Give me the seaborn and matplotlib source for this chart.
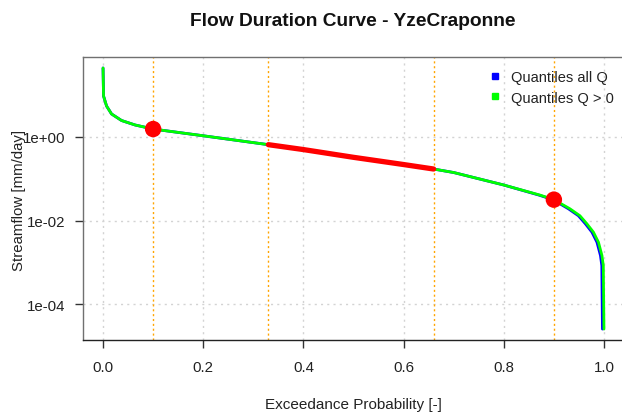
import matplotlib
matplotlib.use("Agg")
import matplotlib.pyplot as plt
from matplotlib.lines import Line2D
from matplotlib.ticker import FixedLocator, FixedFormatter, NullLocator
import seaborn as sns
import pandas as pd

# exceedance probabilities and flows (Q > 0)
prob_pos = [0.000, 0.001, 0.007, 0.017, 0.037, 0.064, 0.10, 0.20, 0.33, 0.40,
            0.50, 0.60, 0.66, 0.70, 0.80, 0.872, 0.90, 0.932, 0.952, 0.966,
            0.979, 0.989, 0.996, 0.9987, 1.000]
flow_pos = [45.0, 9.6, 5.53, 3.56, 2.48, 1.94, 1.55, 1.07, 0.655, 0.50,
            0.326, 0.219, 0.171, 0.141, 0.0708, 0.0407, 0.0316, 0.0191, 0.0130, 0.00832,
            0.00525, 0.00302, 0.00145, 0.00083, 0.0000251]

# all Q (only visible in the tail)
prob_all = [0.000, 0.001, 0.007, 0.017, 0.037, 0.064, 0.10, 0.20, 0.33, 0.40,
            0.50, 0.60, 0.66, 0.70, 0.80, 0.870, 0.898, 0.929, 0.949, 0.963,
            0.976, 0.986, 0.993, 0.9957, 0.997]
flow_all = flow_pos

# mid segment (0.33 - 0.66)
prob_mid = [0.33, 0.40, 0.50, 0.60, 0.66]
flow_mid = [0.655, 0.50, 0.326, 0.219, 0.171]

# Q10 / Q90 points
prob_pts = [0.10, 0.90]
flow_pts = [1.55, 0.0316]

vlines = [0.1, 0.33, 0.66, 0.9]
x_ticks = [0.0, 0.2, 0.4, 0.6, 0.8, 1.0]
y_ticks = [1e0, 1e-2, 1e-4]
y_tick_labels = ["1e+00", "1e-02", "1e-04"]

sns.set_style("white")
plt.rcParams["font.family"] = ["Liberation Sans", "DejaVu Sans"]

df_all = pd.DataFrame({"p": prob_all, "q": flow_all})
df_pos = pd.DataFrame({"p": prob_pos, "q": flow_pos})
df_mid = pd.DataFrame({"p": prob_mid, "q": flow_mid})
df_pts = pd.DataFrame({"p": prob_pts, "q": flow_pts})

fig = plt.figure(figsize=(6.22, 4.14), dpi=100)
ax = fig.add_axes([83 / 622, 73 / 414, 541 / 622, 283 / 414])

ax.set_yscale("log")
ax.set_xlim(-0.04, 1.04)
ax.set_ylim(10 ** -4.862, 10 ** 1.916)

# grid
for xv in x_ticks:
    ax.axvline(xv, color="#d3d3d3", ls=(0, (1.5, 3)), lw=1, zorder=0)
for yv in y_ticks:
    ax.axhline(yv, color="#d3d3d3", ls=(0, (1.5, 3)), lw=1, zorder=0)
for xv in vlines:
    ax.axvline(xv, color="orange", ls=(0, (1.5, 2)), lw=1, zorder=1)

sns.lineplot(data=df_all, x="p", y="q", sort=False, color="blue", lw=2, ax=ax, zorder=2)
sns.lineplot(data=df_pos, x="p", y="q", sort=False, color="#00ff00", lw=2, ax=ax, zorder=3)
sns.lineplot(data=df_mid, x="p", y="q", sort=False, color="red", lw=3.8, ax=ax, zorder=4)
sns.scatterplot(data=df_pts, x="p", y="q", color="red", s=140, edgecolor="none", ax=ax, zorder=5)

ax.xaxis.set_major_locator(FixedLocator(x_ticks))
ax.set_xticklabels([f"{v:.1f}" for v in x_ticks])
ax.yaxis.set_major_locator(FixedLocator(y_ticks))
ax.yaxis.set_major_formatter(FixedFormatter(y_tick_labels))
ax.yaxis.set_minor_locator(NullLocator())
ax.tick_params(axis="both", direction="out", length=5.5, width=1, color="#333333",
               labelsize=10.8, labelcolor="#222222", left=True, bottom=True)
ax.tick_params(axis="x", pad=9)
ax.tick_params(axis="y", pad=7)

for s in ["left", "top", "right"]:
    ax.spines[s].set_color("#707070")
    ax.spines[s].set_linewidth(1)
ax.spines["bottom"].set_color("#222222")
ax.spines["bottom"].set_linewidth(1)

ax.set_xlabel("")
ax.set_ylabel("")
fig.text(353 / 622, 1 - 405 / 414, "Exceedance Probability [-]", ha="center", va="center",
         fontsize=11, color="#222222")
fig.text(19 / 622, 1 - 200 / 414, "Streamflow [mm/day]", ha="center", va="center",
         rotation=90, fontsize=10.8, color="#222222")
fig.text(353 / 622, 1 - 22 / 414, "Flow Duration Curve - YzeCraponne", ha="center", va="center",
         fontsize=13.8, fontweight="bold", color="#111111")

handles = [Line2D([], [], marker="s", ls="none", color="blue", markersize=5),
           Line2D([], [], marker="s", ls="none", color="#00ff00", markersize=5)]
ax.legend(handles, ["Quantiles all Q", "Quantiles Q > 0"], frameon=False,
          loc="upper left", bbox_to_anchor=((488 - 83) / 541, (341 - 71) / 283),
          borderpad=0, borderaxespad=0, handlelength=1.0, handletextpad=0.6,
          labelspacing=0.45, fontsize=10.5, labelcolor="#222222")

fig.savefig("out.png", dpi=100)
